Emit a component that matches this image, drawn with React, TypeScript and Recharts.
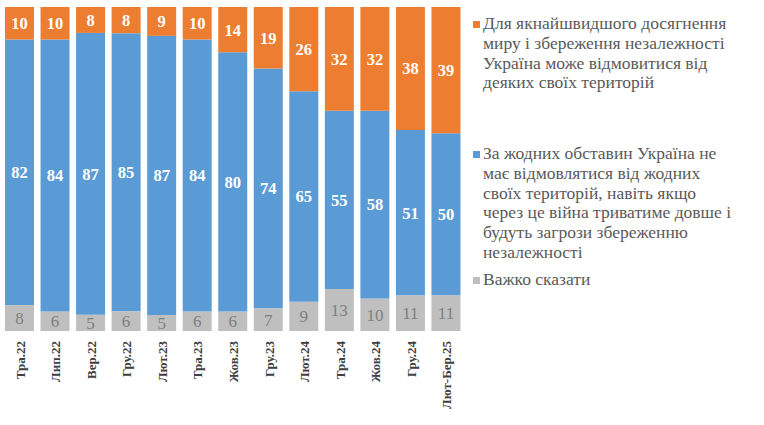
import { Bar, BarChart, LabelList, XAxis, YAxis } from 'recharts';

const WAVES = [
  'Тра.22', 'Лип.22', 'Вер.22', 'Гру.22', 'Лют.23', 'Тра.23', 'Жов.23',
  'Гру.23', 'Лют.24', 'Тра.24', 'Жов.24', 'Гру.24', 'Лют-Бер.25',
];
const HARD_TO_SAY = [8, 6, 5, 6, 5, 6, 6, 7, 9, 13, 10, 11, 11];
const NO_CONCESSIONS = [82, 84, 87, 85, 87, 84, 80, 74, 65, 55, 58, 51, 50];
const CONCESSIONS = [10, 10, 8, 8, 9, 10, 14, 19, 26, 32, 32, 38, 39];

const ORANGE = '#ed7d31';
const BLUE = '#5b9bd5';
const GREY = '#bfbfbf';
const FONT = '"Liberation Serif", "Times New Roman", serif';

// legend text is wrapped by hand to match the original
const LEGEND: Array<{ color: string; lines: string[]; top: number }> = [
  {
    color: ORANGE,
    top: 14,
    lines: [
      'Для якнайшвидшого досягнення',
      'миру і збереження незалежності',
      'Україна може відмовитися від',
      'деяких своїх територій',
    ],
  },
  {
    color: BLUE,
    top: 144,
    lines: [
      'За жодних обставин Україна не',
      'має відмовлятися від жодних',
      'своїх територій, навіть якщо',
      'через це війна триватиме довше і',
      'будуть загрози збереженню',
      'незалежності',
    ],
  },
  { color: GREY, top: 270, lines: ['Важко сказати'] },
];

const data = WAVES.map((wave, i) => ({
  wave,
  hard: HARD_TO_SAY[i],
  no: NO_CONCESSIONS[i],
  yes: CONCESSIONS[i],
}));

function WaveTick({ x, y, payload }: any) {
  return (
    <text
      transform={`translate(${x + 5},${y + 2}) rotate(-90)`}
      textAnchor="end"
      fontFamily={FONT}
      fontWeight="bold"
      fontSize={13}
      fill="#404040"
    >
      {payload.value}
    </text>
  );
}

function SideLegend() {
  return (
    <div
      style={{
        position: 'absolute',
        left: 473,
        top: 0,
        width: 290,
        height: 300,
        fontFamily: FONT,
        color: '#595959',
      }}
    >
      {LEGEND.map((item) => (
        <div key={item.color} style={{ position: 'absolute', left: 0, top: item.top }}>
          <span
            style={{
              position: 'absolute',
              left: 0,
              top: 7,
              width: 7,
              height: 7,
              background: item.color,
            }}
          />
          <div style={{ marginLeft: 10, fontSize: 17.5, lineHeight: '19.8px', whiteSpace: 'nowrap' }}>
            {item.lines.map((l) => (
              <div key={l}>{l}</div>
            ))}
          </div>
        </div>
      ))}
    </div>
  );
}

export default function App() {
  const whiteLabel = { fill: '#ffffff', fontFamily: FONT, fontWeight: 'bold' as const, fontSize: 16.5 };
  return (
    <div style={{ position: 'absolute', left: 0, top: 0, width: 764, height: 425, background: '#fff' }}>
      <BarChart
        width={764}
        height={425}
        data={data}
        stackOffset="expand"
        barSize={29}
        margin={{ top: 7, right: 300, bottom: 0, left: 2 }}
      >
        <XAxis
          dataKey="wave"
          interval={0}
          height={94}
          axisLine={false}
          tickLine={false}
          tick={<WaveTick />}
        />
        <YAxis hide domain={[0, 1]} />
        <Bar dataKey="hard" stackId="a" fill={GREY} isAnimationActive={false}>
          <LabelList
            dataKey="hard"
            position="center"
            fill="#808080"
            fontFamily={FONT}
            fontSize={17}
          />
        </Bar>
        <Bar dataKey="no" stackId="a" fill={BLUE} isAnimationActive={false}>
          <LabelList dataKey="no" position="center" {...whiteLabel} />
        </Bar>
        <Bar dataKey="yes" stackId="a" fill={ORANGE} isAnimationActive={false}>
          <LabelList dataKey="yes" position="center" {...whiteLabel} />
        </Bar>
      </BarChart>
      <SideLegend />
    </div>
  );
}
